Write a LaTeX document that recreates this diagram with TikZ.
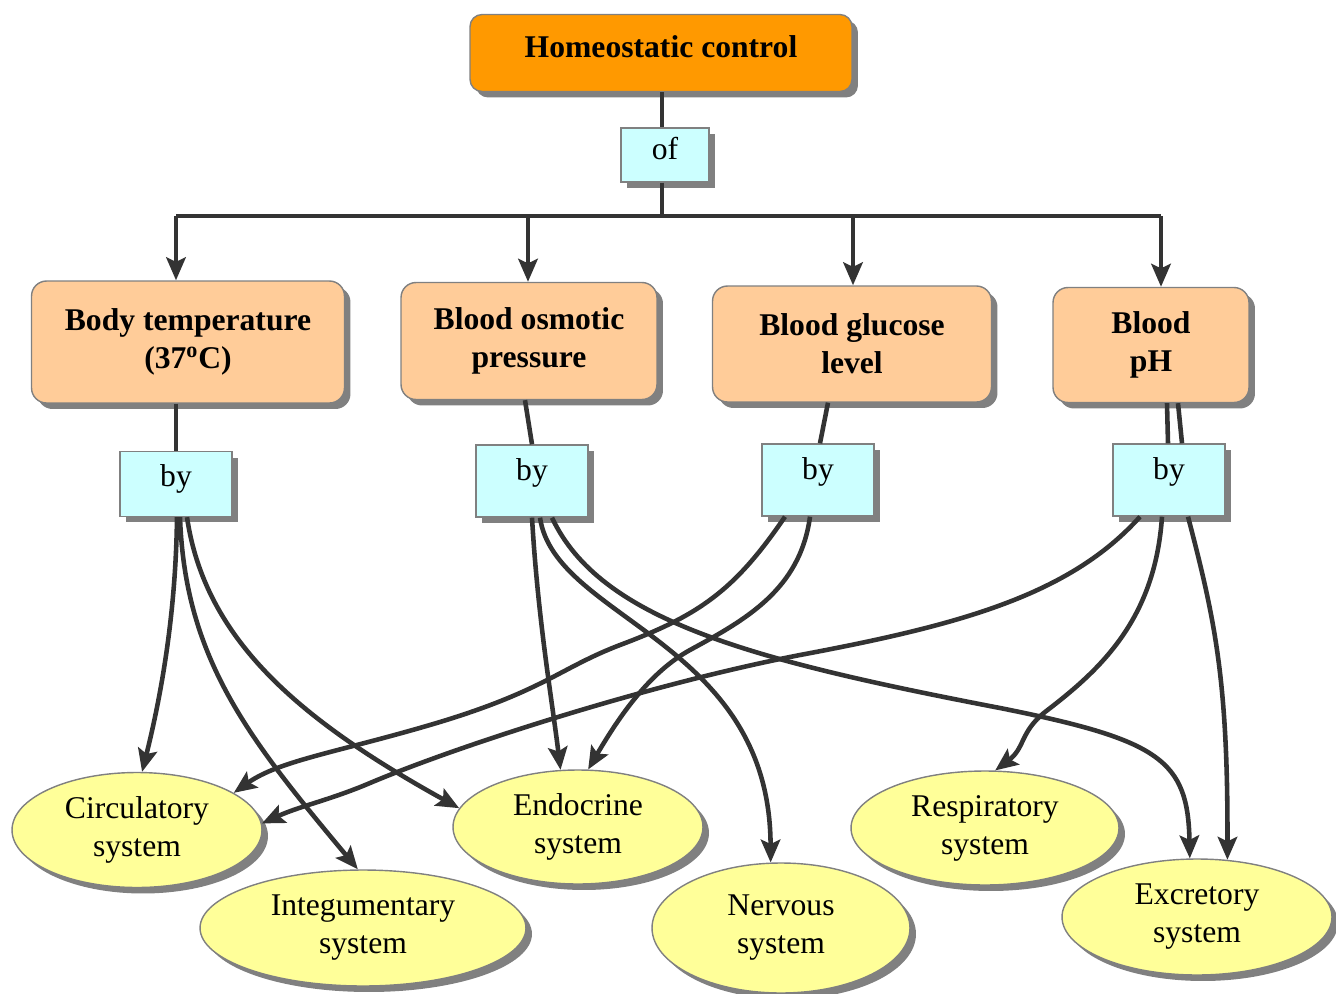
\documentclass[tikz,border=0pt]{standalone}
\usepackage{fontspec}
\setmainfont{Liberation Serif}
\usetikzlibrary{arrows.meta,shadows,shapes.geometric,calc}

\definecolor{headcol}{HTML}{FF9900}
\definecolor{paramcol}{HTML}{FFCC99}
\definecolor{linkcol}{HTML}{CCFFFF}
\definecolor{syscol}{HTML}{FFFF99}
\definecolor{wirecol}{HTML}{333333}

\begin{document}
\begin{tikzpicture}[x=0.02cm, y=-0.02cm,
	font=\fontsize{18}{21.6}\selectfont,
	boxshadow/.style={drop shadow={shadow xshift=0.12cm, shadow yshift=-0.12cm, fill=black!50, opacity=1}},
	head/.style={draw=gray, line width=0.8pt, fill=headcol, rounded corners=0.24cm, boxshadow, minimum width=7.64cm, minimum height=1.54cm, text depth=7pt, font=\fontsize{18}{21.6}\selectfont\bfseries},
	param/.style={draw=gray, line width=0.8pt, fill=paramcol, rounded corners=0.3cm, boxshadow, align=center, font=\fontsize{18}{21.6}\selectfont\bfseries},
	link/.style={draw=gray, line width=0.8pt, fill=linkcol, boxshadow, minimum width=2.24cm, minimum height=1.44cm, text depth=13pt},
	sys/.style={ellipse, draw=gray, line width=0.8pt, fill=syscol, boxshadow, align=center, inner sep=0pt},
	wire/.style={draw=wirecol, line width=2.6pt},
	arr/.style={wire, -{Stealth[length=13pt, width=11pt, inset=2.5pt]}}]

	\useasboundingbox (0,0) rectangle (1336,994);

	% top of the map
	\node[head] (head) at (661,53) {Homeostatic control};
	\node[link, minimum width=1.76cm, minimum height=1.08cm, text depth=8pt] (of) at (665,155) {of};

	% controlled values
	\node[param, minimum width=6.26cm, minimum height=2.44cm] (body) at (188,342) {Body temperature\\(37\textsuperscript{o}C)};
	\node[param, minimum width=5.12cm, minimum height=2.34cm] (osm) at (529,341) {Blood osmotic\\pressure};
	\node[param, minimum width=5.58cm, minimum height=2.32cm] (glu) at (852,344) {Blood glucose\\level};
	\node[param, minimum width=3.92cm, minimum height=2.30cm] (ph) at (1151,345) {Blood\\pH};

	\node[link, minimum height=1.3cm, text depth=10pt] (by1) at (176,484) {by};
	\node[link] (by2) at (532,481) {by};
	\node[link] (by3) at (818,480) {by};
	\node[link] (by4) at (1169,480) {by};

	% organ systems
	\node[sys, minimum width=5cm, minimum height=2.3cm] (circ) at (137,830) {Circulatory\\system};
	\node[sys, minimum width=6.52cm, minimum height=2.32cm] (integ) at (363,928) {Integumentary\\system};
	\node[sys, minimum width=5cm, minimum height=2.28cm] (endo) at (578,827) {Endocrine\\system};
	\node[sys, minimum width=5.16cm, minimum height=2.6cm] (nerv) at (781,928) {Nervous\\system};
	\node[sys, minimum width=5.36cm, minimum height=2.28cm] (resp) at (985,828) {Respiratory\\system};
	\node[sys, minimum width=5.4cm, minimum height=2.32cm] (excr) at (1197,917) {Excretory\\system};

	% tree at the top
	\coordinate (hub) at (662,216);
	\coordinate (hl) at (176,216);
	\coordinate (ho) at (528,216);
	\coordinate (hg) at (853,216);
	\coordinate (hr) at (1161,216);

	\draw[wire] (hub |- head.south) -- (hub |- of.north);
	\draw[wire] (hub |- of.south) -- (hub);
	\draw[wire] (hl) -- (hr);
	\draw[arr] (hl) -- (hl |- body.north);
	\draw[arr] (ho) -- (ho |- osm.north);
	\draw[arr] (hg) -- (hg |- glu.north);
	\draw[arr] (hr) -- (hr |- ph.north);

	\draw[wire] (by1.north |- body.south) -- (by1.north);
	\draw[wire] ($(osm.south)+(-4,0)$) -- (by2.north);
	\draw[wire] ($(glu.south)+(-24,0)$) -- ($(by3.north)+(2,0)$);
	\draw[wire] ($(ph.south)+(16,0)$) -- ($(by4.north)+(-1,0)$);
	\draw[wire] ($(ph.south)+(27,0)$) -- ($(by4.north)+(13,0)$);

	% body temperature
	\draw[arr] ($(by1.south)+(1,0)$) .. controls (176,600) and (165,680) .. (circ.85);
	\draw[arr] ($(by1.south)+(4,0)$) .. controls (185,660) and (250,740) .. (integ.95);
	\draw[arr] ($(by1.south)+(11,0)$) .. controls (205,640) and (300,720) .. (endo.171);

	% osmotic pressure
	\draw[arr] ($(by2.south)+(0,0)$) .. controls (538,620) and (552,700) .. (endo.107);
	\draw[arr] ($(by2.south)+(8,0)$) .. controls (555,620) and (770,640) .. (nerv.99);
	\draw[arr] ($(by2.south)+(20,0)$) .. controls (600,620) and (750,660) .. (1000,708)
		.. controls (1160,740) and (1188,760) .. (excr.97);

	% glucose
	\draw[arr] ($(by3.south)+(-33,0)$) .. controls (735,590) and (700,615) .. (620,645)
		.. controls (560,668) and (545,690) .. (440,722)
		.. controls (340,752) and (280,760) .. (circ.21);
	\draw[arr] ($(by3.south)+(-8,0)$) .. controls (800,590) and (745,620) .. (690,650)
		.. controls (650,672) and (620,715) .. (endo.80);

	% pH
	\draw[arr] ($(by4.south)+(-29,0)$) .. controls (1070,595) and (960,625) .. (800,655)
		.. controls (650,684) and (460,745) .. (370,783)
		.. controls (330,800) and (300,806) .. (circ.3);
	\draw[arr] ($(by4.south)+(-7,0)$) .. controls (1155,620) and (1100,670) .. (1045,712)
		.. controls (1020,732) and (1025,748) .. (resp.80);
	\draw[arr] ($(by4.south)+(19,0)$) .. controls (1215,620) and (1228,680) .. (excr.62);
\end{tikzpicture}
\end{document}
